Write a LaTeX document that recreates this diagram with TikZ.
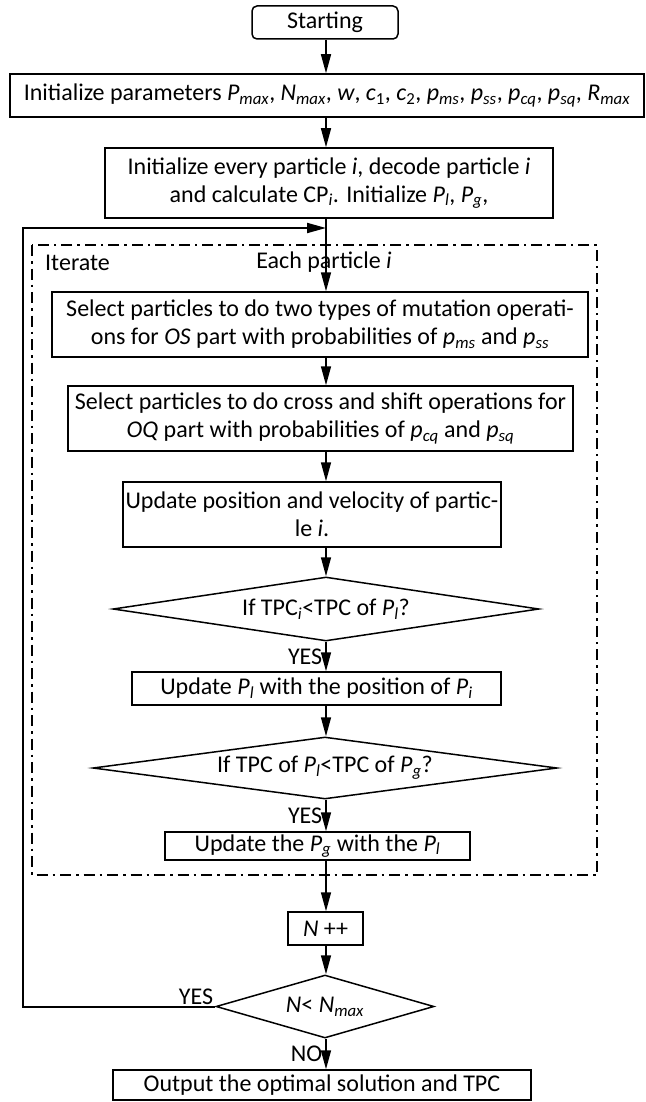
\documentclass[tikz,border=0pt]{standalone}
\usepackage{fontspec}
\setmainfont{Carlito}
\usetikzlibrary{arrows.meta,shapes.geometric}

% italic symbol with italic index, upright symbol with italic index
\newcommand{\vsub}[2]{\textit{#1}\textsubscript{\textit{#2}}}
\newcommand{\isub}[2]{#1\textsubscript{\textit{#2}}}

\begin{document}
\begin{tikzpicture}[x=1pt, y=-1pt,
  font=\fontsize{24}{28}\selectfont,
  box/.style={draw, line width=1.5pt, inner sep=0pt, align=center},
  startbox/.style={box, rounded corners=5pt},
  decision/.style={draw, diamond, line width=1.5pt, inner sep=0pt},
  arr/.style={line width=1.5pt, -{Triangle[length=19pt,width=10pt]}},
  iterframe/.style={line width=2pt, dash pattern=on 11pt off 5pt on 2.5pt off 5pt}]

  % Page size
  \useasboundingbox (0,0) rectangle (645,1102);

  % Main axis of the chart
  \coordinate (axis) at (326,0);

  % Set up before the loop
  \node[startbox, minimum width=146pt, minimum height=33pt] (start) at (325,22.5) {Starting};
  \node[box, minimum width=634pt, minimum height=43pt] (params) at (327,95.5)
    {Initialize parameters \vsub{P}{max}, \vsub{N}{max}, \textit{w}, \textit{c}\textsubscript{1}, \textit{c}\textsubscript{2}, \vsub{p}{ms}, \vsub{p}{ss}, \vsub{p}{cq}, \vsub{p}{sq}, \vsub{R}{max}};
  \node[box, minimum width=448pt, minimum height=70pt] (init) at (329,183)
    {Initialize every particle \textit{i}, decode particle \textit{i}\\and calculate \isub{CP}{i}. Initialize \vsub{P}{l}, \vsub{P}{g},};

  % Iteration frame
  \draw[iterframe] (32,245) rectangle (597,875);
  \node[anchor=west, inner sep=0pt] (iter) at (45,263) {Iterate};
  \node[inner sep=0pt] (each) at (324,262) {Each particle \textit{i}};

  % Steps for each particle
  \node[box, minimum width=536pt, minimum height=65pt] (sel1) at (320,324.5)
    {Select particles to do two types of mutation operati-\\ons for \textit{OS} part with probabilities of \vsub{p}{ms} and \vsub{p}{ss}};
  \node[box, minimum width=505pt, minimum height=65pt] (sel2) at (320.5,418.5)
    {Select particles to do cross and shift operations for\\\textit{OQ} part with probabilities of \vsub{p}{cq} and \vsub{p}{sq}};
  \node[box, minimum width=378pt, minimum height=65pt] (upos) at (312,514.5)
    {Update position and velocity of partic-\\le \textit{i}.};
  \node[decision, minimum width=426pt, minimum height=64pt,
    label=center:{If \isub{TPC}{i}<TPC of \vsub{P}{l}?}] (d1) at (326,609) {};
  \node[box, minimum width=369pt, minimum height=33pt] (upl) at (316.5,688.5)
    {Update \vsub{P}{l} with the position of \vsub{P}{i}};
  \node[decision, minimum width=464pt, minimum height=62pt,
    label=center:{If TPC of \vsub{P}{l}<TPC of \vsub{P}{g}?}] (d2) at (325,768) {};
  \node[box, minimum width=305pt, minimum height=28pt] (upg) at (317.5,846)
    {Update the \vsub{P}{g} with the \vsub{P}{l}};

  % After the loop
  \node[box, minimum width=75pt, minimum height=33pt] (nplus) at (325.5,928.5) {\textit{N} ++};
  \node[decision, minimum width=218pt, minimum height=63pt,
    label=center:{\textit{N}< \vsub{N}{max}}] (d3) at (325,1006.5) {};
  \node[box, minimum width=418pt, minimum height=30pt] (out) at (322,1085)
    {Output the optimal solution and TPC};

  % Arrows down the axis
  \draw[arr] (start.south -| axis) -- (params.north -| axis);
  \draw[arr] (params.south -| axis) -- (init.north -| axis);
  \draw[arr] (init.south -| axis) -- (sel1.north -| axis);
  \draw[arr] (sel1.south -| axis) -- (sel2.north -| axis);
  \draw[arr] (sel2.south -| axis) -- (upos.north -| axis);
  \draw[arr] (upos.south -| axis) -- (d1.north -| axis);
  \draw[arr] (d1.south -| axis) -- node[left, inner sep=3pt] {YES} (upl.north -| axis);
  \draw[arr] (upl.south -| axis) -- (d2.north -| axis);
  \draw[arr] (d2.south -| axis) -- node[left, inner sep=3pt] {YES} (upg.north -| axis);
  \draw[arr] (upg.south -| axis) -- (nplus.north -| axis);
  \draw[arr] (nplus.south -| axis) -- (d3.north -| axis);
  \draw[arr] (d3.south -| axis) -- node[left, inner sep=3pt] {NO} (out.north -| axis);

  % Back to the next iteration
  \coordinate (loopcorner) at (23,228);
  \coordinate (loopend) at (326,228);
  \node[above left, inner sep=2pt] (yesloop) at (d3.west) {YES};
  \draw[arr, line width=2pt] (d3.west) -| (loopcorner) -- (loopend);

\end{tikzpicture}
\end{document}
